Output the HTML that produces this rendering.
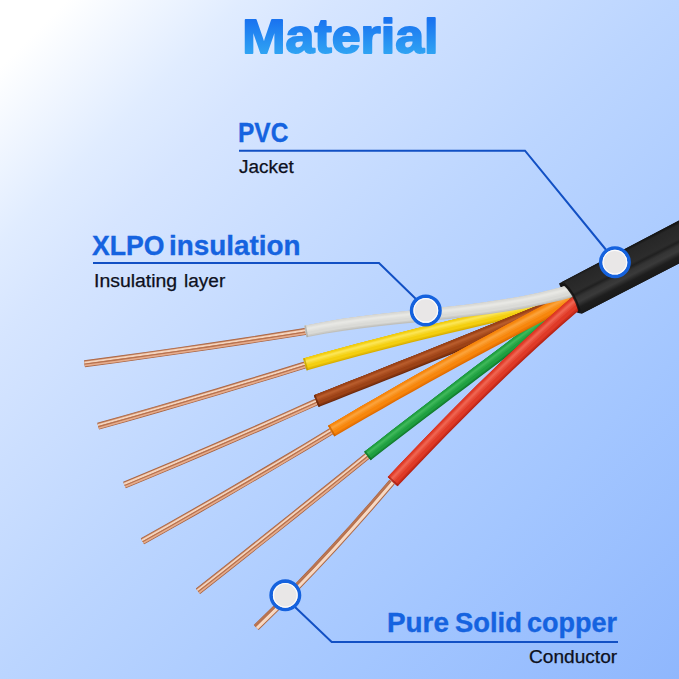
<!DOCTYPE html>
<html><head><meta charset="utf-8">
<style>
html,body{margin:0;padding:0;}
body{width:679px;height:679px;overflow:hidden;position:relative;font-family:"Liberation Sans",sans-serif;
background:linear-gradient(135deg,#ffffff 0%,#ffffff 5%,#e0ecff 18%,#d6e5ff 25%,#bbd5ff 50%,#a3c6ff 76%,#8fb7fd 100%);}
svg{position:absolute;left:0;top:0;}
.t{position:absolute;white-space:nowrap;line-height:1;transform-origin:0 0;}
.r{transform-origin:100% 0;}
.h{color:#1563e0;font-weight:bold;-webkit-text-stroke:0.35px #1563e0;}
.s{color:#0d1020;-webkit-text-stroke:0.25px #0d1020;}
.title{font-weight:bold;background:linear-gradient(180deg,#1a78f2 25%,#2ea3f3 85%);-webkit-background-clip:text;background-clip:text;color:transparent;}
</style></head><body>
<svg width="679" height="679" viewBox="0 0 679 679">
<defs>
<linearGradient id="jk" gradientUnits="userSpaceOnUse" x1="600" y1="262" x2="617.200" y2="295.800">
<stop offset="0" stop-color="#161616"/><stop offset="0.07" stop-color="#272727"/><stop offset="0.4" stop-color="#2c2c2c"/><stop offset="0.47" stop-color="#202020"/><stop offset="0.56" stop-color="#343434"/><stop offset="0.68" stop-color="#3a3a3a"/><stop offset="0.82" stop-color="#1e1e1e"/><stop offset="1" stop-color="#181818"/>
</linearGradient>
<linearGradient id="tg" gradientUnits="userSpaceOnUse" x1="0" y1="-36" x2="0" y2="2"><stop offset="0.1" stop-color="#1a74f0"/><stop offset="0.95" stop-color="#2fa2f3"/></linearGradient>
</defs>
<!-- jacket -->
<path id="jb" d="M559,283.500 L679,220.500 L679,263.500 L582,313.500 Q577,313.600 574.500,310.500 Q564,297 559,283.500 Z" fill="#151515"/>
<g fill="none" stroke-linecap="butt" stroke-linejoin="round">
<path d="M84.5,363.8 L116.2,359.5 L147.9,355.1 L179.6,350.6 L211.4,346.0 L243.1,341.2 L274.8,336.3 L306.5,331.3" stroke="#a9623f" stroke-width="7.0" />
<path d="M84.5,363.8 L116.2,359.5 L147.9,355.1 L179.6,350.6 L211.4,346.0 L243.1,341.2 L274.8,336.3 L306.5,331.3" stroke="#c58461" stroke-width="5.6" />
<path d="M84.4,362.7 L116.1,358.4 L147.8,354.0 L179.5,349.5 L211.2,344.9 L242.9,340.1 L274.6,335.2 L306.3,330.2" stroke="#f4d4be" stroke-width="1.9" />
<path d="M84.6,364.2 L116.3,360.0 L148.0,355.6 L179.7,351.1 L211.4,346.5 L243.1,341.7 L274.9,336.8 L306.6,331.8" stroke="#b8724f" stroke-width="1.3" />
<path d="M84.8,365.6 L116.5,361.4 L148.2,357.0 L179.9,352.5 L211.6,347.9 L243.4,343.1 L275.1,338.2 L306.8,333.2" stroke="#e6ad8e" stroke-width="1.5" />
<path d="M98.2,426.2 L127.9,417.8 L157.6,409.3 L187.3,400.7 L217.0,391.9 L246.6,382.9 L276.3,373.9 L306.0,364.7" stroke="#a9623f" stroke-width="7.0" />
<path d="M98.2,426.2 L127.9,417.8 L157.6,409.3 L187.3,400.7 L217.0,391.9 L246.6,382.9 L276.3,373.9 L306.0,364.7" stroke="#c58461" stroke-width="5.6" />
<path d="M98.0,425.2 L127.6,416.8 L157.3,408.3 L187.0,399.6 L216.6,390.8 L246.3,381.9 L276.0,372.8 L305.7,363.6" stroke="#f4d4be" stroke-width="1.9" />
<path d="M98.4,426.7 L128.1,418.3 L157.7,409.8 L187.4,401.1 L217.1,392.3 L246.8,383.4 L276.5,374.4 L306.1,365.2" stroke="#b8724f" stroke-width="1.3" />
<path d="M98.8,428.1 L128.4,419.7 L158.1,411.1 L187.8,402.5 L217.5,393.7 L247.2,384.8 L276.9,375.7 L306.6,366.5" stroke="#e6ad8e" stroke-width="1.5" />
<path d="M124.5,485.0 L152.1,473.6 L179.6,462.0 L207.2,450.2 L234.8,438.3 L262.4,426.2 L289.9,413.9 L317.5,401.5" stroke="#a9623f" stroke-width="7.0" />
<path d="M124.5,485.0 L152.1,473.6 L179.6,462.0 L207.2,450.2 L234.8,438.3 L262.4,426.2 L289.9,413.9 L317.5,401.5" stroke="#c58461" stroke-width="5.6" />
<path d="M124.1,484.0 L151.6,472.5 L179.2,460.9 L206.8,449.2 L234.3,437.3 L261.9,425.2 L289.5,412.9 L317.0,400.5" stroke="#f4d4be" stroke-width="1.9" />
<path d="M124.7,485.5 L152.3,474.0 L179.8,462.4 L207.4,450.7 L235.0,438.7 L262.6,426.6 L290.1,414.4 L317.7,402.0" stroke="#b8724f" stroke-width="1.3" />
<path d="M125.2,486.8 L152.8,475.3 L180.4,463.7 L208.0,451.9 L235.5,440.0 L263.1,427.9 L290.7,415.7 L318.3,403.2" stroke="#e6ad8e" stroke-width="1.5" />
<path d="M142.5,541.3 L169.6,526.0 L196.8,510.6 L223.9,495.0 L251.1,479.1 L278.2,463.1 L305.4,446.9 L332.5,430.5" stroke="#a9623f" stroke-width="7.0" />
<path d="M142.5,541.3 L169.6,526.0 L196.8,510.6 L223.9,495.0 L251.1,479.1 L278.2,463.1 L305.4,446.9 L332.5,430.5" stroke="#c58461" stroke-width="5.6" />
<path d="M142.0,540.3 L169.1,525.1 L196.2,509.6 L223.4,494.0 L250.5,478.2 L277.7,462.2 L304.8,446.0 L331.9,429.6" stroke="#f4d4be" stroke-width="1.9" />
<path d="M142.7,541.7 L169.9,526.5 L197.0,511.0 L224.2,495.4 L251.3,479.6 L278.5,463.6 L305.6,447.3 L332.8,430.9" stroke="#b8724f" stroke-width="1.3" />
<path d="M143.4,542.9 L170.6,527.7 L197.7,512.2 L224.9,496.6 L252.0,480.8 L279.2,464.8 L306.3,448.5 L333.5,432.1" stroke="#e6ad8e" stroke-width="1.5" />
<path d="M198.0,591.2 L222.4,572.0 L246.7,552.7 L271.1,533.3 L295.4,513.9 L319.8,494.3 L344.1,474.7 L368.5,455.0" stroke="#a9623f" stroke-width="7.0" />
<path d="M198.0,591.2 L222.4,572.0 L246.7,552.7 L271.1,533.3 L295.4,513.9 L319.8,494.3 L344.1,474.7 L368.5,455.0" stroke="#c58461" stroke-width="5.6" />
<path d="M197.3,590.4 L221.7,571.2 L246.0,551.9 L270.4,532.5 L294.7,513.0 L319.1,493.5 L343.5,473.9 L367.8,454.1" stroke="#f4d4be" stroke-width="1.9" />
<path d="M198.3,591.6 L222.7,572.4 L247.0,553.1 L271.4,533.7 L295.7,514.3 L320.1,494.7 L344.5,475.1 L368.8,455.4" stroke="#b8724f" stroke-width="1.3" />
<path d="M199.2,592.7 L223.5,573.5 L247.9,554.2 L272.3,534.8 L296.6,515.4 L321.0,495.8 L345.3,476.2 L369.7,456.5" stroke="#e6ad8e" stroke-width="1.5" />
<path d="M256.2,627.5 L275.6,608.5 L295.0,588.9 L314.4,568.7 L333.8,547.9 L353.2,526.5 L372.6,504.5 L392.0,482.0" stroke="#a9623f" stroke-width="7.0" />
<path d="M256.2,627.5 L275.6,608.5 L295.0,588.9 L314.4,568.7 L333.8,547.9 L353.2,526.5 L372.6,504.5 L392.0,482.0" stroke="#c58461" stroke-width="5.6" />
<path d="M256.9,628.1 L276.3,609.1 L295.7,589.5 L315.1,569.3 L334.5,548.5 L353.9,527.1 L373.3,505.1 L392.7,482.6" stroke="#f6d9c5" stroke-width="3.0" />
<path d="M255.1,626.4 L274.5,607.3 L293.9,587.7 L313.3,567.6 L332.6,546.8 L352.0,525.4 L371.4,503.5 L390.8,481.0" stroke="#b8724f" stroke-width="1.8" />
</g>
<g fill="none" stroke-linecap="butt" stroke-linejoin="round">
</g><g stroke="none">
<path d="M303.3,358.4 L320.8,353.6 L338.3,348.8 L355.8,344.1 L373.3,339.5 L390.8,334.9 L408.3,330.5 L425.8,326.1 L443.3,321.9 L460.8,317.7 L478.3,313.6 L495.7,309.6 L513.2,305.7 L530.7,301.8 L548.2,298.1 L565.7,294.4 L568.3,306.8 L550.8,310.4 L533.4,314.1 L516.0,317.9 L498.5,321.8 L481.1,325.8 L463.6,329.9 L446.2,334.0 L428.8,338.3 L411.3,342.6 L393.9,347.0 L376.4,351.5 L359.0,356.1 L341.6,360.8 L324.1,365.5 L306.7,370.4Z" fill="#d9ae00"/>
<path d="M303.3,358.4 L320.8,353.6 L338.3,348.8 L355.8,344.1 L373.3,339.5 L390.8,334.9 L408.3,330.5 L425.8,326.1 L443.3,321.9 L460.8,317.7 L478.3,313.6 L495.7,309.6 L513.2,305.7 L530.7,301.8 L548.2,298.1 L565.7,294.4 L568.1,305.7 L550.6,309.3 L533.2,313.0 L515.7,316.8 L498.3,320.7 L480.8,324.7 L463.4,328.8 L445.9,333.0 L428.5,337.2 L411.0,341.5 L393.6,345.9 L376.2,350.4 L358.7,355.0 L341.3,359.7 L323.8,364.5 L306.4,369.3Z" fill="#e6be08"/>
<path d="M303.3,358.4 L320.8,353.6 L338.3,348.8 L355.8,344.1 L373.3,339.5 L390.8,334.9 L408.3,330.5 L425.8,326.1 L443.3,321.9 L460.8,317.7 L478.3,313.6 L495.7,309.6 L513.2,305.7 L530.7,301.8 L548.2,298.1 L565.7,294.4 L567.8,304.4 L550.3,308.0 L532.9,311.8 L515.4,315.6 L498.0,319.5 L480.5,323.5 L463.1,327.5 L445.6,331.7 L428.2,335.9 L410.7,340.3 L393.3,344.7 L375.8,349.2 L358.4,353.8 L340.9,358.4 L323.5,363.2 L306.0,368.1Z" fill="#f4cf10"/>
<path d="M303.7,359.9 L321.2,355.0 L338.7,350.2 L356.2,345.5 L373.7,340.9 L391.2,336.4 L408.6,331.9 L426.1,327.6 L443.6,323.3 L461.1,319.2 L478.6,315.1 L496.1,311.1 L513.6,307.1 L531.1,303.3 L548.5,299.6 L566.0,295.9 L567.2,301.4 L549.7,305.1 L532.2,308.8 L514.8,312.6 L497.3,316.5 L479.9,320.5 L462.4,324.6 L444.9,328.8 L427.5,333.0 L410.0,337.4 L392.5,341.8 L375.1,346.3 L357.6,350.9 L340.2,355.6 L322.7,360.3 L305.2,365.2Z" fill="#f6d728"/>
<path d="M303.9,360.6 L321.4,355.7 L338.9,350.9 L356.4,346.2 L373.9,341.6 L391.3,337.1 L408.8,332.7 L426.3,328.3 L443.8,324.1 L461.3,319.9 L478.8,315.8 L496.2,311.8 L513.7,307.9 L531.2,304.0 L548.7,300.3 L566.2,296.7 L566.9,300.0 L549.4,303.6 L531.9,307.4 L514.5,311.2 L497.0,315.1 L479.5,319.1 L462.0,323.2 L444.6,327.3 L427.1,331.6 L409.6,335.9 L392.2,340.3 L374.7,344.9 L357.2,349.5 L339.8,354.1 L322.3,358.9 L304.8,363.8Z" fill="#f9de40"/>
<path d="M304.1,361.3 L321.6,356.4 L339.1,351.6 L356.6,346.9 L374.0,342.3 L391.5,337.8 L409.0,333.4 L426.5,329.0 L444.0,324.8 L461.4,320.6 L478.9,316.5 L496.4,312.5 L513.9,308.6 L531.4,304.8 L548.9,301.0 L566.3,297.4 L566.6,298.9 L549.2,302.5 L531.7,306.3 L514.2,310.1 L496.7,314.0 L479.3,318.0 L461.8,322.1 L444.3,326.2 L426.8,330.5 L409.4,334.8 L391.9,339.3 L374.4,343.8 L356.9,348.4 L339.5,353.1 L322.0,357.8 L304.5,362.7Z" fill="#fbe554"/>
<path d="M303.3,358.4 L304.9,358.0 L308.2,369.9 L306.7,370.4Z" fill="#b89400" opacity="0.7"/>
<path d="M313.9,395.3 L330.6,388.7 L347.3,382.0 L364.1,375.4 L380.8,368.7 L397.5,362.1 L414.2,355.4 L430.9,348.7 L447.6,342.0 L464.3,335.2 L481.0,328.5 L497.7,321.7 L514.4,315.0 L531.1,308.2 L547.8,301.4 L564.5,294.5 L569.5,306.8 L552.8,313.6 L536.0,320.3 L519.3,327.1 L502.6,333.8 L485.8,340.5 L469.1,347.3 L452.4,353.9 L435.7,360.6 L418.9,367.3 L402.2,373.9 L385.5,380.6 L368.7,387.2 L352.0,393.8 L335.3,400.4 L318.6,407.0Z" fill="#6f2a0c"/>
<path d="M313.9,395.3 L330.6,388.7 L347.3,382.0 L364.1,375.4 L380.8,368.7 L397.5,362.1 L414.2,355.4 L430.9,348.7 L447.6,342.0 L464.3,335.2 L481.0,328.5 L497.7,321.7 L514.4,315.0 L531.1,308.2 L547.8,301.4 L564.5,294.5 L569.0,305.7 L552.3,312.5 L535.6,319.2 L518.9,326.0 L502.1,332.7 L485.4,339.5 L468.7,346.2 L452.0,352.9 L435.2,359.6 L418.5,366.2 L401.8,372.9 L385.1,379.5 L368.3,386.2 L351.6,392.8 L334.9,399.4 L318.1,405.9Z" fill="#863611"/>
<path d="M313.9,395.3 L330.6,388.7 L347.3,382.0 L364.1,375.4 L380.8,368.7 L397.5,362.1 L414.2,355.4 L430.9,348.7 L447.6,342.0 L464.3,335.2 L481.0,328.5 L497.7,321.7 L514.4,315.0 L531.1,308.2 L547.8,301.4 L564.5,294.5 L568.5,304.4 L551.8,311.2 L535.1,318.0 L518.4,324.7 L501.6,331.5 L484.9,338.2 L468.2,344.9 L451.5,351.6 L434.7,358.3 L418.0,365.0 L401.3,371.6 L384.6,378.3 L367.8,384.9 L351.1,391.5 L334.4,398.1 L317.7,404.7Z" fill="#9c4216"/>
<path d="M314.5,396.7 L331.2,390.1 L347.9,383.4 L364.6,376.8 L381.3,370.1 L398.0,363.5 L414.7,356.8 L431.4,350.1 L448.2,343.4 L464.9,336.7 L481.6,329.9 L498.3,323.2 L515.0,316.4 L531.7,309.6 L548.4,302.8 L565.1,296.0 L567.3,301.5 L550.6,308.3 L533.9,315.1 L517.2,321.8 L500.5,328.6 L483.7,335.3 L467.0,342.0 L450.3,348.8 L433.6,355.5 L416.9,362.1 L400.2,368.8 L383.4,375.5 L366.7,382.1 L350.0,388.7 L333.3,395.3 L316.6,401.9Z" fill="#a64b1e"/>
<path d="M314.8,397.4 L331.5,390.8 L348.2,384.1 L364.9,377.5 L381.6,370.9 L398.3,364.2 L415.0,357.5 L431.7,350.8 L448.4,344.1 L465.1,337.4 L481.9,330.6 L498.6,323.9 L515.3,317.1 L532.0,310.3 L548.7,303.5 L565.4,296.7 L566.7,300.0 L550.0,306.8 L533.3,313.6 L516.6,320.4 L499.9,327.1 L483.2,333.9 L466.4,340.6 L449.7,347.3 L433.0,354.0 L416.3,360.7 L399.6,367.4 L382.9,374.0 L366.2,380.7 L349.4,387.3 L332.7,393.9 L316.0,400.5Z" fill="#b05425"/>
<path d="M315.0,398.1 L331.8,391.5 L348.5,384.8 L365.2,378.2 L381.9,371.6 L398.6,364.9 L415.3,358.2 L432.0,351.5 L448.7,344.8 L465.4,338.1 L482.1,331.4 L498.9,324.6 L515.6,317.8 L532.3,311.1 L549.0,304.3 L565.7,297.5 L566.3,298.9 L549.6,305.7 L532.9,312.5 L516.2,319.3 L499.4,326.1 L482.7,332.8 L466.0,339.5 L449.3,346.3 L432.6,353.0 L415.9,359.6 L399.2,366.3 L382.4,373.0 L365.7,379.6 L349.0,386.3 L332.3,392.9 L315.6,399.5Z" fill="#b85c2c"/>
<path d="M313.9,395.3 L315.4,394.7 L320.1,406.4 L318.6,407.0Z" fill="#5e240a" opacity="0.7"/>
<path d="M364.3,451.8 L378.0,441.2 L391.6,430.6 L405.3,420.1 L419.0,409.5 L432.7,399.0 L446.4,388.5 L460.0,378.1 L473.7,367.6 L487.4,357.2 L501.1,346.9 L514.8,336.5 L528.4,326.2 L542.1,315.9 L555.8,305.7 L569.5,295.5 L576.5,304.9 L562.8,315.1 L549.1,325.3 L535.4,335.5 L521.6,345.7 L507.9,356.0 L494.2,366.2 L480.5,376.6 L466.8,386.9 L453.0,397.3 L439.3,407.7 L425.6,418.1 L411.9,428.6 L398.2,439.1 L384.4,449.6 L370.7,460.2Z" fill="#117a2c"/>
<path d="M364.3,451.8 L378.0,441.2 L391.6,430.6 L405.3,420.1 L419.0,409.5 L432.7,399.0 L446.4,388.5 L460.0,378.1 L473.7,367.6 L487.4,357.2 L501.1,346.9 L514.8,336.5 L528.4,326.2 L542.1,315.9 L555.8,305.7 L569.5,295.5 L575.9,304.1 L562.2,314.2 L548.5,324.4 L534.7,334.6 L521.0,344.9 L507.3,355.1 L493.6,365.4 L479.9,375.8 L466.2,386.1 L452.4,396.5 L438.7,406.9 L425.0,417.4 L411.3,427.8 L397.6,438.3 L383.9,448.9 L370.1,459.4Z" fill="#188c36"/>
<path d="M364.3,451.8 L378.0,441.2 L391.6,430.6 L405.3,420.1 L419.0,409.5 L432.7,399.0 L446.4,388.5 L460.0,378.1 L473.7,367.6 L487.4,357.2 L501.1,346.9 L514.8,336.5 L528.4,326.2 L542.1,315.9 L555.8,305.7 L569.5,295.5 L575.2,303.1 L561.4,313.3 L547.7,323.5 L534.0,333.7 L520.3,343.9 L506.6,354.2 L492.9,364.5 L479.2,374.8 L465.5,385.2 L451.7,395.6 L438.0,406.0 L424.3,416.5 L410.6,426.9 L396.9,437.4 L383.2,448.0 L369.5,458.5Z" fill="#1f9f40"/>
<path d="M365.1,452.8 L378.7,442.2 L392.4,431.6 L406.1,421.1 L419.8,410.5 L433.5,400.0 L447.2,389.6 L460.8,379.1 L474.5,368.7 L488.2,358.3 L501.9,348.0 L515.6,337.6 L529.3,327.3 L543.0,317.1 L556.6,306.8 L570.3,296.6 L573.5,300.8 L559.8,311.0 L546.1,321.2 L532.4,331.5 L518.7,341.7 L505.0,352.0 L491.3,362.3 L477.6,372.7 L463.9,383.1 L450.1,393.5 L436.4,403.9 L422.7,414.4 L409.0,424.9 L395.3,435.4 L381.6,446.0 L367.9,456.6Z" fill="#2aa849"/>
<path d="M365.4,453.3 L379.1,442.7 L392.8,432.1 L406.5,421.6 L420.2,411.1 L433.9,400.6 L447.6,390.1 L461.2,379.7 L474.9,369.2 L488.6,358.9 L502.3,348.5 L516.0,338.2 L529.7,327.9 L543.4,317.6 L557.1,307.4 L570.7,297.2 L572.6,299.7 L558.9,309.9 L545.2,320.1 L531.5,330.4 L517.8,340.6 L504.1,350.9 L490.4,361.3 L476.7,371.6 L463.0,382.0 L449.4,392.4 L435.7,402.9 L422.0,413.4 L408.3,423.9 L394.6,434.4 L380.9,445.0 L367.2,455.6Z" fill="#35b052"/>
<path d="M365.8,453.8 L379.5,443.2 L393.2,432.6 L406.9,422.1 L420.6,411.6 L434.3,401.1 L448.0,390.6 L461.6,380.2 L475.3,369.8 L489.0,359.4 L502.7,349.0 L516.4,338.7 L530.1,328.4 L543.8,318.2 L557.5,307.9 L571.2,297.7 L572.0,298.9 L558.3,309.1 L544.6,319.3 L530.9,329.5 L517.2,339.8 L503.5,350.1 L489.8,360.5 L476.1,370.8 L462.4,381.2 L448.8,391.7 L435.1,402.1 L421.4,412.6 L407.7,423.1 L394.0,433.7 L380.3,444.2 L366.6,454.8Z" fill="#3fb85a"/>
<path d="M364.3,451.8 L365.6,450.9 L372.0,459.2 L370.7,460.2Z" fill="#0e6825" opacity="0.7"/>
<path d="M328.1,425.8 L344.0,416.4 L359.9,407.1 L375.8,397.9 L391.7,388.7 L407.7,379.6 L423.6,370.6 L439.5,361.7 L455.4,352.8 L471.3,344.1 L487.2,335.4 L503.1,326.8 L519.0,318.3 L534.9,309.8 L550.8,301.5 L566.7,293.2 L573.3,305.8 L557.3,314.0 L541.4,322.2 L525.5,330.5 L509.6,338.9 L493.6,347.4 L477.7,355.9 L461.8,364.5 L445.9,373.2 L429.9,382.0 L414.0,390.9 L398.1,399.8 L382.2,408.9 L366.2,418.0 L350.3,427.2 L334.4,436.4Z" fill="#e06c00"/>
<path d="M328.1,425.8 L344.0,416.4 L359.9,407.1 L375.8,397.9 L391.7,388.7 L407.7,379.6 L423.6,370.6 L439.5,361.7 L455.4,352.8 L471.3,344.1 L487.2,335.4 L503.1,326.8 L519.0,318.3 L534.9,309.8 L550.8,301.5 L566.7,293.2 L572.7,304.7 L556.7,312.9 L540.8,321.1 L524.9,329.4 L509.0,337.8 L493.1,346.3 L477.1,354.8 L461.2,363.5 L445.3,372.2 L429.4,381.0 L413.4,389.9 L397.5,398.8 L381.6,407.9 L365.7,417.0 L349.7,426.2 L333.8,435.5Z" fill="#ec7906"/>
<path d="M328.1,425.8 L344.0,416.4 L359.9,407.1 L375.8,397.9 L391.7,388.7 L407.7,379.6 L423.6,370.6 L439.5,361.7 L455.4,352.8 L471.3,344.1 L487.2,335.4 L503.1,326.8 L519.0,318.3 L534.9,309.8 L550.8,301.5 L566.7,293.2 L572.0,303.4 L556.1,311.6 L540.1,319.8 L524.2,328.1 L508.3,336.5 L492.4,345.0 L476.5,353.6 L460.5,362.3 L444.6,371.0 L428.7,379.8 L412.8,388.7 L396.9,397.7 L380.9,406.7 L365.0,415.9 L349.1,425.1 L333.2,434.4Z" fill="#f7860c"/>
<path d="M328.9,427.1 L344.8,417.7 L360.7,408.4 L376.6,399.2 L392.5,390.0 L408.4,381.0 L424.3,372.0 L440.2,363.1 L456.1,354.2 L472.1,345.5 L488.0,336.8 L503.9,328.2 L519.8,319.7 L535.7,311.3 L551.6,303.0 L567.5,294.7 L570.4,300.4 L554.5,308.6 L538.6,316.9 L522.7,325.2 L506.8,333.7 L490.8,342.2 L474.9,350.8 L459.0,359.5 L443.1,368.2 L427.2,377.1 L411.3,386.0 L395.3,395.0 L379.4,404.1 L363.5,413.3 L347.6,422.5 L331.7,431.9Z" fill="#f8901c"/>
<path d="M329.3,427.7 L345.2,418.4 L361.1,409.1 L377.0,399.8 L392.9,390.7 L408.8,381.6 L424.7,372.7 L440.6,363.8 L456.5,354.9 L472.4,346.2 L488.4,337.5 L504.3,329.0 L520.2,320.5 L536.1,312.1 L552.0,303.7 L567.9,295.5 L569.7,298.9 L553.7,307.1 L537.8,315.4 L521.9,323.8 L506.0,332.2 L490.1,340.8 L474.2,349.4 L458.2,358.1 L442.3,366.9 L426.4,375.7 L410.5,384.7 L394.6,393.7 L378.7,402.8 L362.8,412.0 L346.8,421.2 L330.9,430.6Z" fill="#fa9a2c"/>
<path d="M329.6,428.4 L345.5,419.0 L361.4,409.7 L377.4,400.5 L393.3,391.4 L409.2,382.3 L425.1,373.3 L441.0,364.4 L456.9,355.6 L472.8,346.9 L488.7,338.3 L504.6,329.7 L520.6,321.2 L536.5,312.8 L552.4,304.5 L568.3,296.2 L569.1,297.7 L553.2,306.0 L537.2,314.3 L521.3,322.7 L505.4,331.1 L489.5,339.7 L473.6,348.3 L457.7,357.0 L441.8,365.8 L425.8,374.7 L409.9,383.7 L394.0,392.7 L378.1,401.8 L362.2,411.0 L346.3,420.3 L330.4,429.6Z" fill="#fba23a"/>
<path d="M328.1,425.8 L329.5,425.0 L335.7,435.6 L334.4,436.4Z" fill="#be5c00" opacity="0.7"/>
<path d="M387.8,477.1 L400.5,463.6 L413.2,450.3 L425.9,437.1 L438.5,424.0 L451.2,411.1 L463.9,398.3 L476.6,385.6 L489.3,373.2 L502.0,360.9 L514.7,348.9 L527.4,337.0 L540.1,325.3 L552.8,313.9 L565.6,302.8 L578.3,291.9 L587.7,303.0 L575.1,313.8 L562.4,324.8 L549.8,336.0 L537.1,347.5 L524.4,359.2 L511.8,371.1 L499.1,383.3 L486.4,395.6 L473.7,408.1 L461.0,420.8 L448.3,433.6 L435.7,446.6 L423.0,459.7 L410.3,472.9 L397.6,486.3Z" fill="#b82416"/>
<path d="M387.8,477.1 L400.5,463.6 L413.2,450.3 L425.9,437.1 L438.5,424.0 L451.2,411.1 L463.9,398.3 L476.6,385.6 L489.3,373.2 L502.0,360.9 L514.7,348.9 L527.4,337.0 L540.1,325.3 L552.8,313.9 L565.6,302.8 L578.3,291.9 L586.9,302.0 L574.2,312.8 L561.6,323.8 L548.9,335.0 L536.2,346.6 L523.6,358.3 L510.9,370.2 L498.2,382.4 L485.5,394.7 L472.8,407.2 L460.2,419.9 L447.5,432.8 L434.8,445.7 L422.1,458.9 L409.4,472.1 L396.7,485.5Z" fill="#cc2f1e"/>
<path d="M387.8,477.1 L400.5,463.6 L413.2,450.3 L425.9,437.1 L438.5,424.0 L451.2,411.1 L463.9,398.3 L476.6,385.6 L489.3,373.2 L502.0,360.9 L514.7,348.9 L527.4,337.0 L540.1,325.3 L552.8,313.9 L565.6,302.8 L578.3,291.9 L585.9,300.8 L573.2,311.6 L560.6,322.7 L547.9,333.9 L535.2,345.5 L522.5,357.2 L509.9,369.2 L497.2,381.3 L484.5,393.7 L471.8,406.2 L459.1,418.9 L446.4,431.8 L433.8,444.7 L421.1,457.9 L408.4,471.1 L395.7,484.5Z" fill="#df3a27"/>
<path d="M389.0,478.2 L401.7,464.7 L414.3,451.4 L427.0,438.2 L439.7,425.2 L452.4,412.2 L465.1,399.5 L477.8,386.8 L490.5,374.4 L503.2,362.1 L515.9,350.1 L528.6,338.2 L541.3,326.6 L554.0,315.2 L566.7,304.1 L579.4,293.2 L583.6,298.2 L571.0,309.0 L558.3,320.1 L545.6,331.4 L532.9,342.9 L520.2,354.7 L507.5,366.7 L494.8,378.9 L482.2,391.3 L469.5,403.9 L456.8,416.6 L444.1,429.5 L431.4,442.5 L418.7,455.6 L406.0,468.9 L393.4,482.3Z" fill="#e54935"/>
<path d="M389.6,478.7 L402.3,465.3 L414.9,452.0 L427.6,438.8 L440.3,425.7 L453.0,412.8 L465.7,400.0 L478.4,387.4 L491.1,375.0 L503.8,362.8 L516.4,350.7 L529.1,338.9 L541.9,327.3 L554.6,315.9 L567.3,304.7 L580.0,293.9 L582.5,296.8 L569.8,307.7 L557.1,318.8 L544.4,330.1 L531.7,341.7 L519.1,353.5 L506.4,365.5 L493.7,377.7 L481.0,390.1 L468.3,402.7 L455.6,415.4 L442.9,428.3 L430.2,441.3 L417.6,454.5 L404.9,467.8 L392.2,481.2Z" fill="#ea5744"/>
<path d="M390.2,479.3 L402.8,465.9 L415.5,452.6 L428.2,439.4 L440.9,426.3 L453.6,413.4 L466.3,400.6 L478.9,388.0 L491.6,375.6 L504.3,363.4 L517.0,351.3 L529.7,339.5 L542.4,327.9 L555.1,316.5 L567.8,305.4 L580.5,294.5 L581.7,295.9 L569.0,306.7 L556.3,317.8 L543.6,329.2 L530.9,340.8 L518.2,352.6 L505.5,364.6 L492.8,376.8 L480.1,389.2 L467.4,401.8 L454.7,414.6 L442.1,427.5 L429.4,440.5 L416.7,453.7 L404.0,467.0 L391.3,480.4Z" fill="#ef6450"/>
<path d="M387.8,477.1 L388.9,475.9 L398.7,485.1 L397.6,486.3Z" fill="#9c1f13" opacity="0.7"/>
<path d="M304.4,325.7 L322.6,322.2 L340.9,319.1 L359.2,316.5 L377.5,314.3 L395.7,312.2 L413.9,310.3 L432.0,308.4 L450.2,306.5 L468.3,304.4 L486.3,302.1 L504.3,299.3 L522.3,296.2 L540.3,292.4 L558.2,288.1 L576.3,282.9 L579.7,295.0 L561.4,300.2 L543.0,304.6 L524.7,308.4 L506.3,311.6 L488.0,314.3 L469.7,316.6 L451.5,318.7 L433.3,320.6 L415.1,322.4 L397.0,324.2 L378.9,326.2 L360.8,328.4 L342.7,330.9 L324.7,333.8 L306.6,337.3Z" fill="#c0c0bc"/>
<path d="M304.4,325.7 L322.6,322.2 L340.9,319.1 L359.2,316.5 L377.5,314.3 L395.7,312.2 L413.9,310.3 L432.0,308.4 L450.2,306.5 L468.3,304.4 L486.3,302.1 L504.3,299.3 L522.3,296.2 L540.3,292.4 L558.2,288.1 L576.3,282.9 L579.4,293.9 L561.1,299.1 L542.8,303.5 L524.5,307.3 L506.1,310.5 L487.9,313.2 L469.6,315.5 L451.4,317.6 L433.2,319.5 L415.0,321.3 L396.9,323.1 L378.7,325.1 L360.6,327.3 L342.6,329.8 L324.5,332.8 L306.4,336.3Z" fill="#cdcdc9"/>
<path d="M304.4,325.7 L322.6,322.2 L340.9,319.1 L359.2,316.5 L377.5,314.3 L395.7,312.2 L413.9,310.3 L432.0,308.4 L450.2,306.5 L468.3,304.4 L486.3,302.1 L504.3,299.3 L522.3,296.2 L540.3,292.4 L558.2,288.1 L576.3,282.9 L579.1,292.7 L560.8,297.8 L542.5,302.3 L524.2,306.0 L505.9,309.2 L487.7,311.9 L469.5,314.2 L451.2,316.3 L433.0,318.2 L414.9,320.0 L396.7,321.9 L378.6,323.9 L360.5,326.1 L342.4,328.6 L324.3,331.6 L306.2,335.1Z" fill="#dadad6"/>
<path d="M304.6,327.1 L322.9,323.6 L341.1,320.5 L359.4,317.9 L377.6,315.7 L395.8,313.7 L414.0,311.8 L432.2,309.9 L450.3,308.0 L468.4,305.9 L486.5,303.5 L504.6,300.8 L522.6,297.6 L540.6,293.9 L558.6,289.5 L576.7,284.4 L578.2,289.8 L560.0,294.9 L541.9,299.4 L523.7,303.1 L505.5,306.3 L487.3,309.0 L469.1,311.3 L450.9,313.4 L432.8,315.3 L414.6,317.2 L396.4,319.0 L378.3,321.0 L360.1,323.3 L342.0,325.8 L323.8,328.8 L305.7,332.3Z" fill="#dfdfdb"/>
<path d="M304.8,327.8 L323.0,324.3 L341.3,321.2 L359.5,318.7 L377.7,316.4 L395.9,314.4 L414.1,312.5 L432.3,310.6 L450.4,308.7 L468.5,306.6 L486.6,304.2 L504.7,301.5 L522.8,298.4 L540.8,294.6 L558.8,290.2 L576.9,285.1 L577.8,288.3 L559.7,293.5 L541.5,297.9 L523.4,301.6 L505.2,304.8 L487.1,307.5 L468.9,309.9 L450.8,312.0 L432.6,313.9 L414.4,315.7 L396.3,317.6 L378.1,319.6 L359.9,321.8 L341.7,324.4 L323.6,327.4 L305.4,330.9Z" fill="#e4e4e0"/>
<path d="M304.9,328.5 L323.1,325.0 L341.4,321.9 L359.6,319.4 L377.8,317.1 L396.0,315.1 L414.2,313.2 L432.3,311.3 L450.5,309.4 L468.6,307.3 L486.7,305.0 L504.8,302.3 L522.9,299.1 L541.0,295.4 L559.0,291.0 L577.1,285.8 L577.5,287.2 L559.4,292.4 L541.3,296.8 L523.2,300.5 L505.1,303.7 L486.9,306.4 L468.8,308.8 L450.6,310.9 L432.5,312.8 L414.3,314.6 L396.2,316.5 L378.0,318.5 L359.8,320.8 L341.6,323.3 L323.4,326.3 L305.2,329.9Z" fill="#e8e8e4"/>
<path d="M304.4,325.7 L306.0,325.4 L308.2,337.0 L306.6,337.3Z" fill="#a3a3a0" opacity="0.7"/>
</g>
<path d="M562,282 L679,220.500 L679,263.500 L582,313.500 Q579.500,313.500 578.500,310 Q576,299 570,292 Q565,286 562,282 Z" fill="url(#jk)"/>
<path d="M563.500,283.500 Q574,292 579.500,311" fill="none" stroke="#111" stroke-width="2.500" opacity="0.8"/>
<!-- callout lines -->
<g fill="none" stroke="#1250c4" stroke-width="2">
 <path d="M239,150.700 L525,150.700 L607,251"/>
 <path d="M93,263.100 L379,263.100 L417,300"/>
 <path d="M618,642 L331.700,642 L295,607"/>
</g>
<g fill="#e9e7e7" stroke="#1562de" stroke-width="3.600">
 <circle cx="614.900" cy="262.200" r="14.200"/>
 <circle cx="425.800" cy="310.400" r="14.200"/>
 <circle cx="285.300" cy="595.300" r="14.200"/>
</g>
<g fill="none" stroke="#fbfbfd" stroke-width="1.200">
 <circle cx="614.900" cy="262.200" r="11.800"/>
 <circle cx="425.800" cy="310.400" r="11.800"/>
 <circle cx="285.300" cy="595.300" r="11.800"/>
</g>
<text transform="translate(242.250,52.800) scale(1.071,1)" font-size="48.500" font-weight="bold" font-family="Liberation Sans, sans-serif" fill="url(#tg)" stroke="url(#tg)" stroke-width="1.800" stroke-linejoin="round">Material</text>
</svg>
<div class="t h" style="left:238.03px;top:119.3px;font-size:27.6px;transform:scaleX(0.887)">PVC</div>
<div class="t h" style="left:92.44px;top:232.3px;font-size:27.6px;transform:scaleX(0.9644)">XLPO</div>
<div class="t h" style="left:169.18px;top:232.3px;font-size:27.6px;transform:scaleX(1.0102)">insulation</div>
<div class="t h" style="left:387.48px;top:608.7px;font-size:27.6px;transform:scaleX(1.0103)">Pure</div>
<div class="t h" style="left:455.21px;top:608.7px;font-size:27.6px;transform:scaleX(0.9908)">Solid</div>
<div class="t h" style="left:527.42px;top:608.7px;font-size:27.6px;transform:scaleX(0.9791)">copper</div>
<div class="t s" style="left:239.22px;top:158.8px;font-size:17.6px;transform:scaleX(1.076)">Jacket</div>
<div class="t s" style="left:93.69px;top:272.6px;font-size:17.6px;transform:scaleX(1.1042)">Insulating</div>
<div class="t s" style="left:183.92px;top:272.6px;font-size:17.6px;transform:scaleX(1.0811)">layer</div>
<div class="t s" style="left:528.91px;top:648.5px;font-size:17.6px;transform:scaleX(1.0862)">Conductor</div>

</body></html>
